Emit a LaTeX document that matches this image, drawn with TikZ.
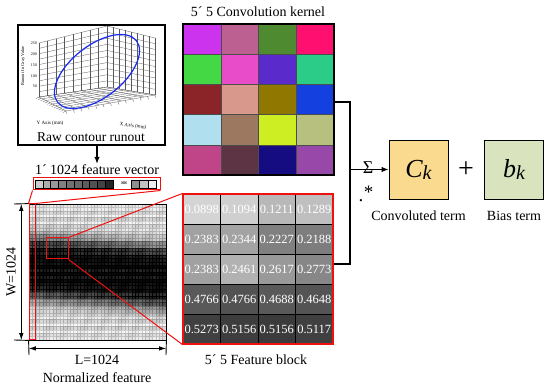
\documentclass[tikz,border=0pt]{standalone}
\usepackage{fontspec}
\setmainfont{Liberation Serif}
\usepackage{tikz}
\usetikzlibrary{positioning, arrows.meta, calc}
\definecolor{convYellow}{HTML}{F9DA8F}
\definecolor{biasGreen}{HTML}{D9E4BE}
\definecolor{cutRed}{HTML}{F01010}
\definecolor{curveBlue}{HTML}{1A2BF0}

\begin{document}
\begin{tikzpicture}[x=1pt, y=-1pt,
        font=\fontsize{14}{16}\selectfont,
        tiny/.style={font=\fontsize{4}{4.5}\selectfont, inner sep=0pt},
        frame/.style={draw, inner sep=0pt, line width=1.1pt},
        term/.style={frame, line width=0.9pt, minimum width=59pt, minimum height=59pt, font=\fontsize{26}{28}\selectfont},
        arr/.style={-{Latex[length=7pt, width=5.5pt]}, line width=1.1pt},
        dim/.style={{Latex[length=7pt, width=4.5pt]}-{Latex[length=7pt, width=4.5pt]}, line width=0.9pt},
        cut/.style={cutRed, line width=1pt},
        mesh/.style={black!65, line width=0.3pt}]
        \useasboundingbox (0,0) rectangle (550,387);
        % raw contour plot
        \node[frame, minimum width=147pt, minimum height=120pt] (plot) at (91.5,85) {};
        \coordinate (L0) at (39,97);  \coordinate (L1) at (39,43);
        \coordinate (B0) at (107,87); \coordinate (B1) at (107,26);
        \coordinate (R0) at (155,95); \coordinate (R1) at (155,38);
        \coordinate (F0) at (66,111);
        \foreach \i in {0,...,8} {
          \draw[mesh] ($(L0)!\i/8!(B0)$) -- ($(L1)!\i/8!(B1)$);
          \draw[mesh] ($(B0)!\i/8!(R0)$) -- ($(B1)!\i/8!(R1)$);
          \draw[mesh] ($(L0)!\i/8!(F0)$) -- ($(B0)!\i/8!(R0)$);
          \draw[mesh] ($(L0)!\i/8!(B0)$) -- ($(F0)!\i/8!(R0)$);
        }
        \foreach \j in {0,...,10} {
          \draw[mesh] ($(L0)!\j/10!(L1)$) -- ($(B0)!\j/10!(B1)$) -- ($(R0)!\j/10!(R1)$);
        }
        \foreach \k in {0,...,12} {
          \draw[mesh] ($(L0)!\k/12!(F0)$) -- ++(-3,1.5);
          \draw[mesh] ($(F0)!\k/12!(R0)$) -- ++(1,3);
        }
        \foreach \v/\y in {250/43, 200/54, 150/65, 100/76, 50/86}
          \node[tiny, anchor=east] at (37,\y) {\v};
        \node[tiny, rotate=90, font=\fontsize{4.5}{5}\selectfont] at (23,66) {Runout In Gray Value};
        \node[tiny, font=\fontsize{5}{6}\selectfont] at (50,123) {Y Axis (mm)};
        \node[tiny, font=\fontsize{5}{6}\selectfont, rotate=-8] at (133,126) {X Axis (mm)};
        \draw[curveBlue, line width=1.2pt, rotate around={38:(97,71.5)}] (97,71.5) ellipse [x radius=50pt, y radius=26pt];
        \node[font=\fontsize{13.5}{15}\selectfont, inner sep=0pt] (rawlbl) at (91,137) {Raw contour runout};
        % feature vector
        \node[inner sep=1pt] (vtitle) at (97,170) {1´ 1024 feature vector};
        \node[draw=cutRed, line width=1pt, minimum width=127pt, minimum height=12pt, inner sep=0pt] (vec) at (96.5,184) {};
        \foreach \g [count=\i from 0] in {80,68,60,50,44,41,36,32,26,14}
          \filldraw[fill=white!\g!black, draw=black, line width=0.4pt] (35+\i*7.8,180) rectangle ++(7.8,8);
        \node[inner sep=0pt, font=\fontsize{7}{8}\selectfont] (dots) at (124,184) {×\kern-2.2pt×\kern-2.2pt×};
        \foreach \g [count=\i from 0] in {56,76,93}
          \filldraw[fill=white!\g!black, draw=black, line width=0.4pt] (131+\i*8.5,180) rectangle ++(8.5,8);
        \draw[arr] (plot.south -| vtitle) -- (vtitle.north);
        % normalized feature map
        \foreach \r in {0,...,39} {
          \foreach \c in {0,...,39} {
            \pgfmathsetmacro\d{((\r+0.5)/40-0.47-0.07*\c/40)/0.24}
            \pgfmathsetmacro\v{0.9-0.84*exp(-(\d*\d)*(\d*\d))+0.07*sin(\r*157)+0.03*sin(\c*71+\r*37)}
            \pgfmathtruncatemacro\w{max(3,min(97,100*\v))}
            \pgfmathtruncatemacro\wl{max(0,\w-16)}
            \filldraw[fill=white!\w!black, draw=white!\wl!black, line width=0.25pt] (29+\c*3.425,204+\r*3.4) rectangle ++(3.425,3.4);
          }
        }
        \node[frame, line width=0.8pt, minimum width=137pt, minimum height=136pt] (map) at (97.5,272) {};
        \node[draw=cutRed, line width=1pt, minimum width=6pt, minimum height=136pt, inner sep=0pt] (strip) at (32,272) {};
        \node[draw=cutRed, line width=1pt, minimum width=22pt, minimum height=21pt, inner sep=0pt] (zoomsq) at (57,248.5) {};
        \draw[cut] (vec.south west) -- (strip.north west);
        \draw[cut] (vec.south east) -- (strip.north east);
        % dimensions
        \coordinate (wtop) at (14,204); \coordinate (wbot) at (14,340);
        \coordinate (lleft) at (29,355); \coordinate (lright) at (166,355);
        \draw[line width=0.9pt] (wtop) -- (map.north west); \draw[line width=0.9pt] (wbot) -- (map.south west);
        \draw[line width=0.9pt] (map.south west) -- (lleft); \draw[line width=0.9pt] (map.south east) -- (lright);
        \draw[dim] ($(wtop)!0.5!(map.north west)$) -- ($(wbot)!0.5!(map.south west)$);
        \draw[dim] ($(map.south west)!0.55!(lleft)$) -- ($(map.south east)!0.55!(lright)$);
        \node[rotate=90, inner sep=0pt] (wlbl) at (11,272) {W=1024};
        \node[inner sep=0pt] (llbl) at (97,360) {L=1024};
        \node[inner sep=0pt] (mapttl) at (97,378) {Normalized feature};
        % convolution kernel
        \foreach \h [count=\i from 0] in {CC33EE,BB6090,4E8A30,FF1070,44D844,E84CC8,5A2ACA,2ACC88,8B2428,D8988C,907800,1440E0,B0E0F0,9C7860,CCEE22,B8C080,C04488,5C3444,140C80,9848A8} {
          \pgfmathtruncatemacro\cc{mod(\i,4)}
          \pgfmathtruncatemacro\rr{(\i-\cc)/4}
          \definecolor{kcell}{HTML}{\h}
          \filldraw[fill=kcell, draw=black!70, line width=0.4pt] (183+\cc*37.75,24+\rr*30.2) rectangle ++(37.75,30.2);
        }
        \node[frame, minimum width=151pt, minimum height=151pt] (kernel) at (258.5,99.5) {};
        \node[inner sep=0pt] (kttl) at (258,12) {5´ 5 Convolution kernel};
        % feature block
        \foreach \g/\val [count=\i from 0] in {83/0.0898, 81/0.1094, 72/0.1211, 75/0.1289,
              63/0.2383, 64/0.2344, 50/0.2227, 49/0.2188,
              63/0.2383, 70/0.2461, 60/0.2617, 53/0.2773,
              35/0.4766, 32/0.4766, 35/0.4688, 33/0.4648,
              25/0.5273, 24/0.5156, 23/0.5156, 25/0.5117} {
          \pgfmathtruncatemacro\cc{mod(\i,4)}
          \pgfmathtruncatemacro\rr{(\i-\cc)/4}
          \filldraw[fill=white!\g!black, draw=black, line width=0.6pt] (183+\cc*37.5,194+\rr*30) rectangle ++(37.5,30);
          \node[text=white, inner sep=0pt, font=\fontsize{12.5}{14}\selectfont] at (183+\cc*37.5+18.75,194+\rr*30+15) {\val};
        }
        \node[draw=cutRed, line width=1.1pt, minimum width=150pt, minimum height=150pt, inner sep=0pt] (block) at (258,269) {};
        \node[inner sep=0pt] (bttl) at (256,360) {5´ 5 Feature block};
        \draw[cut] (zoomsq.north east) -- (block.north west);
        \draw[cut] (zoomsq.south east) -- (block.south west);
        % convolution terms
        \node[term, fill=convYellow] (ck) at (418.5,169.5) {\textit{C\raisebox{-2pt}{\fontsize{20}{22}\selectfont k}}};
        \node[term, fill=biasGreen] (bk) at (514,169.5) {\textit{b\raisebox{-2pt}{\fontsize{20}{22}\selectfont k}}};
        \node[font=\fontsize{28}{30}\selectfont, inner sep=0pt] (plus) at (466,170) {+};
        \node[inner sep=0pt] (cklbl) at (418.5,216) {Convoluted term};
        \node[inner sep=0pt] (bklbl) at (514,216) {Bias term};
        \coordinate (jt) at (350,102); \coordinate (jb) at (350,264);
        \draw[line width=1.1pt] (kernel.east |- jt) -- (jt) -- (jb) -- (block.east |- jb);
        \draw[arr] (jt |- ck) -- (ck.west);
        \node[inner sep=0pt, font=\fontsize{18}{19}\selectfont] (sigma) at (368,168) {Σ};
        \node[inner sep=0pt, font=\fontsize{19}{20}\selectfont] (mult) at (366,194) {.\kern0.5pt\raisebox{3pt}{*}};
      \end{tikzpicture}
\end{document}
